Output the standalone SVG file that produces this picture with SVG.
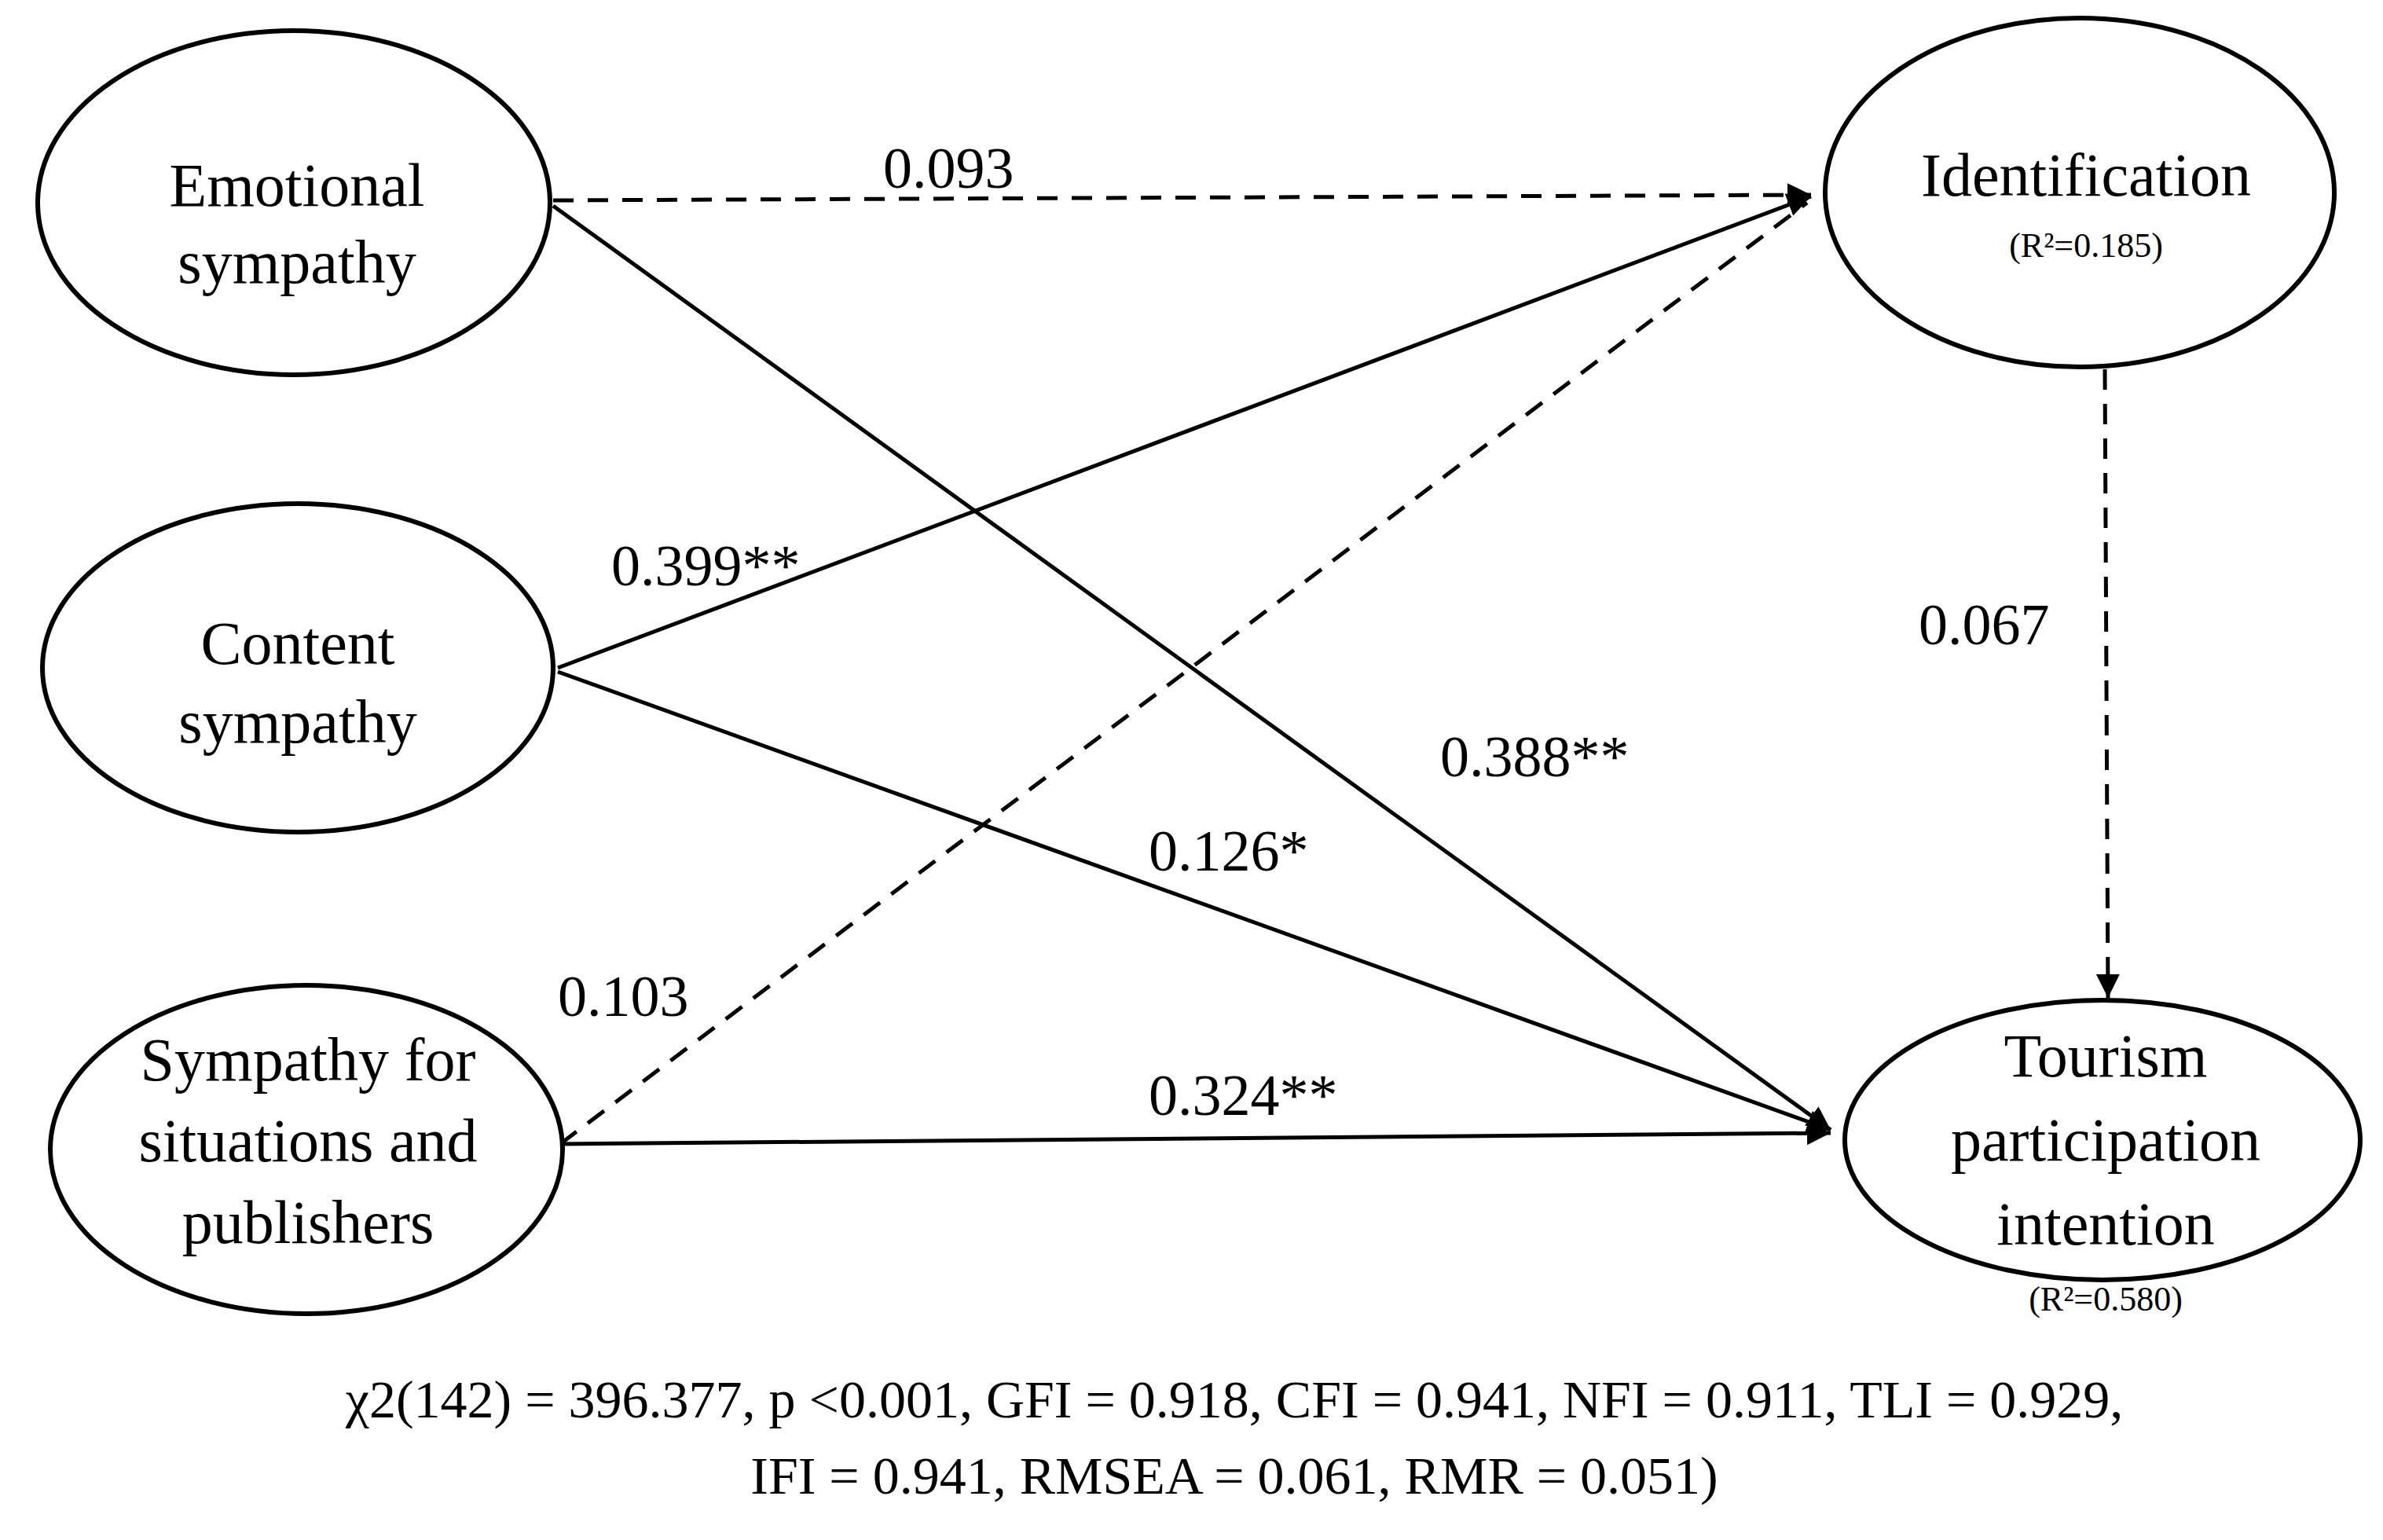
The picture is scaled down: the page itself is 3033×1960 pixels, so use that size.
<svg xmlns="http://www.w3.org/2000/svg" width="3033" height="1960" viewBox="0 0 3033 1960">
<style>
text{font-family:"Liberation Serif","Times New Roman",serif;fill:#000}
.n{font-size:78px;text-anchor:middle}
.r{font-size:44px;text-anchor:middle}
.l{font-size:74px}
.f{font-size:68px;text-anchor:middle}
ellipse{fill:#fff;stroke:#000;stroke-width:6}
.c line{stroke:#000;stroke-width:5}
.d{stroke-dasharray:26 18}
</style>
<defs>
<marker id="a" viewBox="0 0 10 10" refX="10" refY="5" markerWidth="6" markerHeight="6" markerUnits="strokeWidth" orient="auto"><path d="M0,0L10,5L0,10z" fill="#000"/></marker>
</defs>
<rect width="3033" height="1960" fill="#fff"/>
<g class="c">
<line class="d" x1="704" y1="255" x2="2305" y2="248" marker-end="url(#a)"/>
<line x1="704" y1="262" x2="2330" y2="1438" marker-end="url(#a)"/>
<line x1="710" y1="850" x2="2305" y2="250" marker-end="url(#a)"/>
<line x1="710" y1="855" x2="2330" y2="1438" marker-end="url(#a)"/>
<line class="d" x1="713" y1="1456" x2="2300" y2="258"/>
<line x1="713" y1="1456" x2="2330" y2="1442" marker-end="url(#a)"/>
<line class="d" x1="2679" y1="470" x2="2683" y2="1270" marker-end="url(#a)"/>
</g>
<g id="emotional"><ellipse cx="374" cy="258" rx="326" ry="219"/><text class="n" x="378" y="262">Emotional</text><text class="n" x="378" y="360">sympathy</text></g>
<g id="content"><ellipse cx="379" cy="850" rx="325" ry="209"/><text class="n" x="379" y="845">Content</text><text class="n" x="379" y="945">sympathy</text></g>
<g id="situations"><ellipse cx="390" cy="1463" rx="326" ry="209"/><text class="n" x="392" y="1375">Sympathy for</text><text class="n" x="392" y="1478">situations and</text><text class="n" x="392" y="1582">publishers</text></g>
<g id="identification"><ellipse cx="2647" cy="245" rx="324" ry="222"/><text class="n" x="2655" y="249">Identification</text><text class="r" x="2655" y="327">(R²=0.185)</text></g>
<g id="tourism"><ellipse cx="2676" cy="1451" rx="328" ry="178"/><text class="n" x="2680" y="1370">Tourism</text><text class="n" x="2680" y="1477">participation</text><text class="n" x="2680" y="1584">intention</text><text class="r" x="2680" y="1668">(R²=0.580)</text></g>
<g id="labels">
<text class="l" x="1124" y="239">0.093</text>
<text class="l" x="778" y="745">0.399**</text>
<text class="l" x="1833" y="988">0.388**</text>
<text class="l" x="1462" y="1108">0.126*</text>
<text class="l" x="710" y="1293">0.103</text>
<text class="l" x="1462" y="1419">0.324**</text>
<text class="l" x="2442" y="820">0.067</text>
</g>
<text class="f" x="1571" y="1804">χ2(142) = 396.377, p &lt;0.001, GFI = 0.918, CFI = 0.941, NFI = 0.911, TLI = 0.929,</text>
<text class="f" x="1571" y="1901">IFI = 0.941, RMSEA = 0.061, RMR = 0.051)</text>
</svg>
